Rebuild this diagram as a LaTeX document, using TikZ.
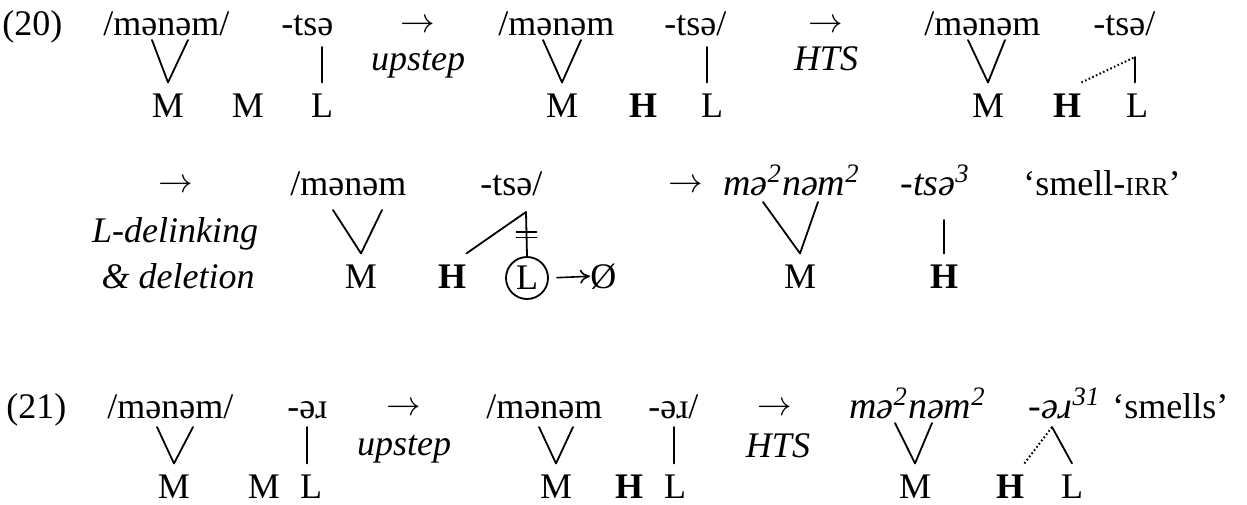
\documentclass[tikz,border=0pt]{standalone}
\usepackage{fontspec}
\setmainfont{Liberation Serif}
\usetikzlibrary{arrows.meta,calc}
\newcommand{\segsize}{\fontsize{18}{22}\selectfont}
\newcommand{\outsize}{\fontsize{19}{23}\selectfont\itshape}
\newcommand{\irr}{{\fontsize{13}{15}\selectfont IRR}}
\newcommand{\goesto}{$\rightarrow$}
\tikzset{
  seg/.style={anchor=base west,inner sep=0pt},
  surf/.style={seg,font=\outsize},
  glyph/.style={anchor=base,inner sep=0pt},
  tone/.style={anchor=base,inner sep=0pt,outer ysep=5.5pt},
  hitone/.style={tone,font=\segsize\bfseries},
  rulelab/.style={anchor=base,inner sep=0pt,font=\segsize\itshape},
  assoc/.style={line width=0.9pt},
  spread/.style={line width=1pt,dash pattern=on 0.8pt off 1.2pt,line cap=butt},
}
\begin{document}
\begin{tikzpicture}[x=0.5pt,y=-0.5pt,>={To[length=5pt,width=7pt]},font=\segsize,line join=round,line cap=round]
	\useasboundingbox (0,0) rectangle (1247,504);
	% (20)
	\node[seg] (ex20) at (2,35) {(20)};
	\node[seg] (w11) at (103,35) {/mənəm/};
	\node[seg] (w12) at (281,35) {-tsə};
	\node[glyph] (ar11) at (418,32) {\goesto};
	\node[rulelab] (up1) at (418,70) {upstep};
	\node[seg] (w21) at (498,35) {/mənəm};
	\node[seg] (w22) at (664,35) {-tsə/};
	\node[glyph] (ar12) at (826,32) {\goesto};
	\node[rulelab] (hts1) at (826,70) {HTS};
	\node[seg] (w31) at (924,35) {/mənəm};
	\node[seg] (w32) at (1093,35) {-tsə/};
	\node[tone] (t11) at (168,117) {M};
	\node[tone] (t12) at (248,117) {M};
	\node[tone] (t13) at (322,117) {L};
	\node[tone] (t21) at (562,117) {M};
	\node[hitone] (t22) at (643,117) {H};
	\node[tone] (t23) at (712,117) {L};
	\node[tone] (t31) at (988,117) {M};
	\node[hitone] (t32) at (1067,117) {H};
	\node[tone] (t33) at (1137,117) {L};
	\coordinate (v11) at (152,40); \coordinate (v12) at (188,40); \coordinate (s13) at (322,47);
	\coordinate (v21) at (543,40); \coordinate (v22) at (581,40); \coordinate (s23) at (707,47);
	\coordinate (v31) at (968,40); \coordinate (v32) at (1005,40); \coordinate (s33) at (1135,57);
	\draw[assoc] (v11) -- (t11.north) -- (v12);
	\draw[assoc] (s13) -- (s13 |- t13.north);
	\draw[assoc] (v21) -- (t21.north) -- (v22);
	\draw[assoc] (s23) -- (s23 |- t23.north);
	\draw[assoc] (v31) -- (t31.north) -- (v32);
	\draw[assoc] (s33) -- (s33 |- t33.north);
	\draw[spread] (t32.north east) -- (s33);
	% second line of (20)
	\node[glyph] (ar21) at (176,192) {\goesto};
	\node[rulelab] (dl1) at (175,242) {L-delinking};
	\node[rulelab] (dl2) at (178,288) {\& deletion};
	\node[seg] (w41) at (290,195) {/mənəm};
	\node[seg] (w42) at (480,195) {-tsə/};
	\node[tone] (t41) at (361,288) {M};
	\node[hitone] (t42) at (452,288) {H};
	\node[circle,draw,line width=0.9pt,inner sep=0pt,minimum size=21pt] (t43) at (527,278) {L};
	\node[seg] (zero) at (590,288) {Ø};
	\coordinate (v41) at (333,210); \coordinate (v42) at (382,210); \coordinate (s43) at (526,212);
	\draw[assoc] (v41) -- (t41.north) -- (v42);
	\draw[assoc] (t42.north east) -- (s43);
	\draw[assoc] (s43) -- (t43.north);
	\draw[assoc] ($(s43)!0.45!(t43.north)$) ++(-10,0) -- ++(20,0);
	\draw[assoc] ($(s43)!0.58!(t43.north)$) ++(-10,0) -- ++(20,0);
	\draw[->,line width=0.8pt,shorten <=4pt] (t43.east) -- (zero.west);
	\node[glyph] (ar22) at (686,192) {\goesto};
	\node[surf] (w51) at (723,195) {mə\textsuperscript{2}nəm\textsuperscript{2}};
	\node[surf] (w52) at (900,195) {-tsə\textsuperscript{3}};
	\node[seg] (gl1) at (1023,195) {‘smell-\irr’};
	\node[tone] (t51) at (800,288) {M};
	\node[hitone] (t52) at (944,288) {H};
	\coordinate (v51) at (763,202); \coordinate (v52) at (818,202); \coordinate (s52) at (944,220);
	\draw[assoc] (v51) -- (t51.north) -- (v52);
	\draw[assoc] (s52) -- (t52.north);
	% (21)
	\node[seg] (ex21) at (6,418) {(21)};
	\node[seg] (w61) at (107,418) {/mənəm/};
	\node[seg] (w62) at (287,418) {-əɹ};
	\node[glyph] (ar31) at (404,415) {\goesto};
	\node[rulelab] (up2) at (404,455) {upstep};
	\node[seg] (w71) at (486,418) {/mənəm};
	\node[seg] (w72) at (648,418) {-əɹ/};
	\node[glyph] (ar32) at (775,415) {\goesto};
	\node[rulelab] (hts2) at (778,457) {HTS};
	\node[surf] (w81) at (849,418) {mə\textsuperscript{2}nəm\textsuperscript{2}};
	\node[surf] (w82) at (1028,418) {-əɹ\textsuperscript{31}};
	\node[seg] (gl2) at (1112,418) {‘smells’};
	\node[tone] (t61) at (174,498) {M};
	\node[tone] (t62) at (264,498) {M};
	\node[tone] (t63) at (311,498) {L};
	\node[tone] (t71) at (556,498) {M};
	\node[hitone] (t72) at (629,498) {H};
	\node[tone] (t73) at (675,498) {L};
	\node[tone] (t81) at (915,498) {M};
	\node[hitone] (t82) at (1010,498) {H};
	\node[tone] (t83) at (1072,498) {L};
	\coordinate (v61) at (157,427); \coordinate (v62) at (193,427); \coordinate (s63) at (307,427);
	\coordinate (v71) at (539,427); \coordinate (v72) at (573,427); \coordinate (s73) at (674,427);
	\coordinate (v81) at (895,423); \coordinate (v82) at (932,423); \coordinate (s83) at (1052,427);
	\draw[assoc] (v61) -- (t61.north) -- (v62);
	\draw[assoc] (s63) -- (s63 |- t63.north);
	\draw[assoc] (v71) -- (t71.north) -- (v72);
	\draw[assoc] (s73) -- (s73 |- t73.north);
	\draw[assoc] (v81) -- (t81.north) -- (v82);
	\draw[spread] (t82.north east) -- (s83);
	\draw[assoc] (s83) -- (t83.north);
\end{tikzpicture}
\end{document}
